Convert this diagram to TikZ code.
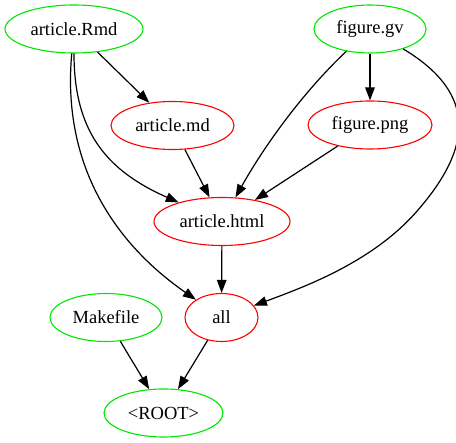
\documentclass[tikz,border=0pt]{standalone}
\usepackage{fontspec}
\setmainfont{Liberation Serif}
\usetikzlibrary{shapes.geometric,arrows.meta}
\begin{document}
\begin{tikzpicture}[x=1pt,y=-1pt,
  nd/.style={ellipse,draw,line width=1.1pt,inner sep=0pt,minimum height=48pt,font=\fontsize{18.5}{20}\selectfont},
  src/.style={nd,draw={rgb,255:red,0;green,230;blue,0}},
  tgt/.style={nd,draw=red},
  edge/.style={line width=1.2pt,-{Triangle[length=13pt,width=9.5pt]}}]
\useasboundingbox (0,0) rectangle (456,443);
\node[src,minimum width=138pt] (rmd) at (74,29) {article.Rmd};
\node[src,minimum width=112pt] (gv) at (370,29) {figure.gv};
\node[tgt,minimum width=123pt] (md) at (172.5,125.5) {article.md};
\node[tgt,minimum width=124pt] (png) at (370,125) {figure.png};
\node[tgt,minimum width=136pt] (html) at (222,221.5) {article.html};
\node[tgt,minimum width=73pt] (all) at (221.5,317.5) {all};
\node[src,minimum width=112pt] (mk) at (106,317.5) {Makefile};
\node[src,minimum width=119pt] (root) at (163.5,413) {<ROOT>};
\coordinate (gvbend) at (418,210);
\draw[edge] (rmd) -- (md);
\draw[edge] (rmd) .. controls (74,130) and (105,170) .. (html);
\draw[edge] (rmd) .. controls (62,160) and (110,240) .. (all);
\draw[edge] (gv) -- (png);
\draw[edge] (gv) .. controls (300,95) and (262,150) .. (html);
\draw[edge] (gv) .. controls (480,95) and (470,150) .. (gvbend) .. controls (375,260) and (310,285) .. (all);
\draw[edge] (md) -- (html);
\draw[edge] (png) -- (html);
\draw[edge] (html) -- (all);
\draw[edge] (mk) -- (root);
\draw[edge] (all) -- (root);
\end{tikzpicture}
\end{document}
